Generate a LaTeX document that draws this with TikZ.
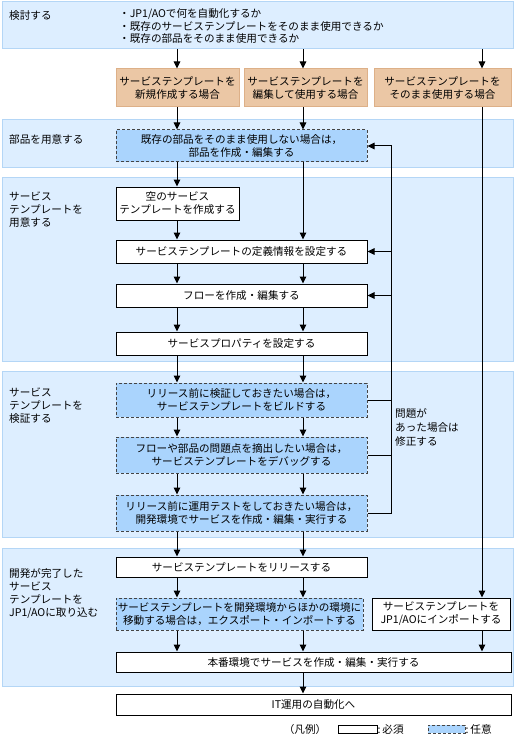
\documentclass[tikz,border=0pt]{standalone}
\usepackage{fontspec}
\setmainfont{Noto Sans CJK JP}
\usetikzlibrary{arrows.meta}
\definecolor{bandfill}{HTML}{DDEEFF}
\definecolor{banddraw}{HTML}{B4D6F6}
\definecolor{tanfill}{HTML}{EBC7A5}
\definecolor{tandraw}{HTML}{DDB088}
\definecolor{optfill}{HTML}{AAD4FD}
\definecolor{optdraw}{HTML}{444444}
\tikzset{
  every node/.style={font=\fontsize{10.6}{13}\selectfont},
  band/.style={draw=banddraw, fill=bandfill, line width=1pt, inner sep=0pt, anchor=center},
  bandlabel/.style={anchor=north west, inner sep=0pt, align=left},
  tanbox/.style={draw=tandraw, fill=tanfill, line width=1pt, inner sep=0pt, align=center, anchor=center},
  reqbox/.style={draw=black, fill=white, line width=1pt, inner sep=0pt, align=center, anchor=center},
  optbox/.style={draw=optdraw, fill=optfill, line width=1pt, dash pattern=on 3pt off 2pt, inner sep=0pt, align=center, anchor=center},
  arr/.style={draw=black, line width=1pt, -{Triangle[length=7pt,width=6.5pt]}},
  ln/.style={draw=black, line width=1pt},
}
\begin{document}
\begin{tikzpicture}[x=1pt,y=-1pt]
\useasboundingbox (0,0) rectangle (515,738);
% bands
\node[band, minimum width=511pt, minimum height=47pt] (band1) at (257.5,25.5) {};
\node[band, minimum width=511pt, minimum height=48pt] (band2) at (257.5,144) {};
\node[band, minimum width=511pt, minimum height=183pt] (band3) at (257.5,269.5) {};
\node[band, minimum width=511pt, minimum height=166pt] (band4) at (257.5,454) {};
\node[band, minimum width=511pt, minimum height=138pt] (band5) at (257.5,617) {};
% band labels
\node[bandlabel] (lab1) at (9,10) {検討する};
\node[bandlabel] (lab2) at (9,134) {部品を用意する};
\node[bandlabel] (lab3) at (9,192) {サービス\\テンプレートを\\用意する};
\node[bandlabel] (lab4) at (9,387.5) {サービス\\テンプレートを\\検証する};
\node[bandlabel] (lab5) at (9,568) {開発が完了した\\サービス\\テンプレートを\\JP1/AOに取り込む};
\node[bandlabel, font=\fontsize{10.6}{12.6}\selectfont] (lab1b) at (119,8.5) {・JP1/AOで何を自動化するか\\・既存のサービステンプレートをそのまま使用できるか\\・既存の部品をそのまま使用できるか};
% column coordinates
\coordinate (cA) at (177,0);
\coordinate (cB) at (303,0);
\coordinate (cC) at (482,0);
\coordinate (fb) at (391,0);
% boxes
\node[tanbox, minimum width=123pt, minimum height=38pt] (tan1) at (177.5,88) {サービステンプレートを\\新規作成する場合};
\node[tanbox, minimum width=123pt, minimum height=38pt] (tan2) at (305.5,88) {サービステンプレートを\\編集して使用する場合};
\node[tanbox, minimum width=137pt, minimum height=38pt] (tan3) at (442.5,88) {サービステンプレートを\\そのまま使用する場合};
\node[optbox, minimum width=251pt, minimum height=32pt] (parts) at (241.5,146) {既存の部品をそのまま使用しない場合は，\\部品を作成・編集する};
\node[reqbox, minimum width=123pt, minimum height=33pt] (empty) at (177.5,203.5) {空のサービス\\テンプレートを作成する};
\node[reqbox, minimum width=251pt, minimum height=23pt] (def) at (241.5,251.5) {サービステンプレートの定義情報を設定する};
\node[reqbox, minimum width=251pt, minimum height=23pt] (flow) at (241.5,295.5) {フローを作成・編集する};
\node[reqbox, minimum width=251pt, minimum height=23pt] (prop) at (241.5,343.5) {サービスプロパティを設定する};
\node[optbox, minimum width=251pt, minimum height=34pt] (build) at (241.5,400) {リリース前に検証しておきたい場合は，\\サービステンプレートをビルドする};
\node[optbox, minimum width=251pt, minimum height=36pt] (debug) at (241.5,455) {フローや部品の問題点を摘出したい場合は，\\サービステンプレートをデバッグする};
\node[optbox, minimum width=251pt, minimum height=36pt] (optest) at (241.5,513) {リリース前に運用テストをしておきたい場合は，\\開発環境でサービスを作成・編集・実行する};
\node[reqbox, minimum width=251pt, minimum height=20pt] (release) at (241.5,567) {サービステンプレートをリリースする};
\node[optbox, minimum width=247pt, minimum height=32pt] (export) at (239.5,614) {サービステンプレートを開発環境からほかの環境に\\移動する場合は，エクスポート・インポートする};
\node[reqbox, minimum width=138pt, minimum height=32pt] (import) at (441,614) {サービステンプレートを\\JP1/AOにインポートする};
\node[reqbox, minimum width=395pt, minimum height=20pt] (prod) at (313.5,662) {本番環境でサービスを作成・編集・実行する};
\node[reqbox, minimum width=395pt, minimum height=21pt] (it) at (313.5,704.5) {IT運用の自動化へ};
% feedback label
\node[bandlabel, font=\fontsize{10.6}{14}\selectfont] (fblab) at (395,408.5) {問題が\\あった場合は\\修正する};
% legend
\node[inner sep=0pt] (leg) at (305,729) {（凡例）};
\node[reqbox, minimum width=39pt, minimum height=8pt] (legreq) at (357.5,729) {};
\node[anchor=west, inner sep=0pt] (legreqt) at (legreq.east) {:\,必須};
\node[optbox, minimum width=37pt, minimum height=8pt] (legopt) at (446.5,729) {};
\node[anchor=west, inner sep=0pt] (legoptt) at (legopt.east) {:\,任意};
% arrows column A
\draw[arr] (band1.south -| cA) -- (tan1.north -| cA);
\draw[arr] (tan1.south -| cA) -- (parts.north -| cA);
\draw[arr] (parts.south -| cA) -- (empty.north -| cA);
\draw[arr] (empty.south -| cA) -- (def.north -| cA);
\draw[arr] (def.south -| cA) -- (flow.north -| cA);
\draw[arr] (flow.south -| cA) -- (prop.north -| cA);
\draw[arr] (prop.south -| cA) -- (build.north -| cA);
\draw[arr] (build.south -| cA) -- (debug.north -| cA);
\draw[arr] (debug.south -| cA) -- (optest.north -| cA);
\draw[arr] (optest.south -| cA) -- (release.north -| cA);
\draw[arr] (release.south -| cA) -- (export.north -| cA);
\draw[arr] (export.south -| cA) -- (prod.north -| cA);
% arrows column B
\draw[arr] (band1.south -| cB) -- (tan2.north -| cB);
\draw[arr] (tan2.south -| cB) -- (parts.north -| cB);
\draw[arr] (parts.south -| cB) -- (def.north -| cB);
\draw[arr] (def.south -| cB) -- (flow.north -| cB);
\draw[arr] (flow.south -| cB) -- (prop.north -| cB);
\draw[arr] (prop.south -| cB) -- (build.north -| cB);
\draw[arr] (build.south -| cB) -- (debug.north -| cB);
\draw[arr] (debug.south -| cB) -- (optest.north -| cB);
\draw[arr] (optest.south -| cB) -- (release.north -| cB);
\draw[arr] (release.south -| cB) -- (export.north -| cB);
\draw[arr] (export.south -| cB) -- (prod.north -| cB);
\draw[arr] (prod.south -| cB) -- (it.north -| cB);
% arrows column C
\draw[arr] (band1.south -| cC) -- (tan3.north -| cC);
\draw[arr] (tan3.south -| cC) -- (import.north -| cC);
\draw[arr] (import.south -| cC) -- (prod.north -| cC);
% feedback
\draw[arr] (optest.east) -- (optest.east -| fb) -- (parts.east -| fb) -- (parts.east);
\draw[ln] (build.east) -- (build.east -| fb);
\draw[ln] (debug.east) -- (debug.east -| fb);
\draw[arr] (def.east -| fb) -- (def.east);
\draw[arr] (flow.east -| fb) -- (flow.east);
\end{tikzpicture}
\end{document}
